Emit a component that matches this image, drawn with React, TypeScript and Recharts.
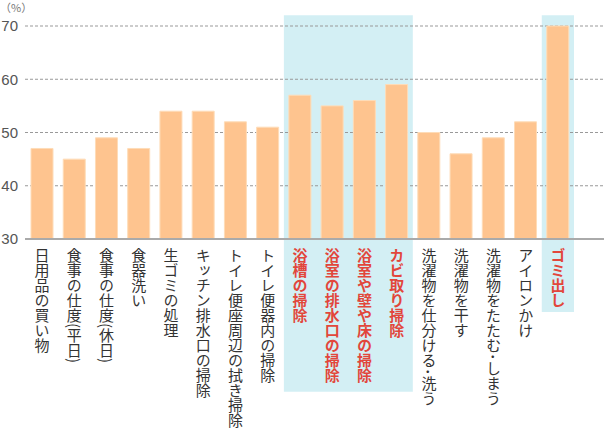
import { BarChart, Bar, XAxis, YAxis, CartesianGrid, ReferenceArea } from 'recharts';

const categories = [
  '日用品の買い物',
  '食事の仕度(平日)',
  '食事の仕度(休日)',
  '食器洗い',
  '生ゴミの処理',
  'キッチン排水口の掃除',
  'トイレ便座周辺の拭き掃除',
  'トイレ便器内の掃除',
  '浴槽の掃除',
  '浴室の排水口の掃除',
  '浴室や壁や床の掃除',
  'カビ取り掃除',
  '洗濯物を仕分ける・洗う',
  '洗濯物を干す',
  '洗濯物をたたむ・しまう',
  'アイロンかけ',
  'ゴミ出し'
];
const rates = [47, 45, 49, 47, 54, 54, 52, 51, 57, 55, 56, 59, 50, 46, 49, 52, 70];
const highlighted = ['浴槽の掃除', '浴室の排水口の掃除', '浴室や壁や床の掃除', 'カビ取り掃除', 'ゴミ出し'];
const yTicks = [30, 40, 50, 60, 70];

const data = categories.map((name, i) => ({ name, rate: rates[i] }));

const jpFont = '"Noto Sans CJK JP", sans-serif';

function CategoryTick(props: any) {
  const { x, y, payload } = props;
  const hl = highlighted.includes(payload.value);
  // the middle dot is set half-width, as in the reference
  const label = String(payload.value).replace(/・/g, '･');
  return (
    <text
      x={x}
      y={y + 1}
      style={{ writingMode: 'vertical-rl' }}
      fill={hl ? '#e2463b' : '#333'}
      fontWeight={hl ? 'bold' : 'normal'}
      fontSize={15}
      fontFamily={jpFont}
    >
      {label}
    </text>
  );
}

export default function App() {
  return (
    <div style={{ position: 'absolute', left: 0, top: 0, width: 604, height: 432 }}>
      <div
        style={{
          position: 'absolute', left: 0, top: 0, fontSize: 11, color: '#777',
          fontFamily: jpFont, lineHeight: '14px'
        }}
      >
        （%）
      </div>
      <BarChart width={604} height={432} data={data} margin={{ top: 26, right: 0, left: 0, bottom: 0 }}>
        <ReferenceArea
          x1="浴槽の掃除"
          x2="カビ取り掃除"
          y1={1.3}
          y2={72}
          fill="#d3eff4"
          fillOpacity={1}
          stroke="none"
          ifOverflow="visible"
          zIndex={-200}
        />
        <ReferenceArea
          x1="ゴミ出し"
          x2="ゴミ出し"
          y1={16.3}
          y2={72}
          fill="#d3eff4"
          fillOpacity={1}
          stroke="none"
          ifOverflow="visible"
          zIndex={-200}
        />
        <CartesianGrid vertical={false} stroke="#999" strokeDasharray="3 2" />
        <XAxis
          dataKey="name"
          interval={0}
          height={193}
          padding={{ left: 1, right: 30 }}
          tickLine={false}
          tick={<CategoryTick />}
          stroke="#aaa"
          strokeWidth={2}
        />
        <YAxis
          domain={[30, 70]}
          ticks={yTicks}
          width={25}
          axisLine={false}
          tickLine={false}
          tickSize={0}
          tickMargin={7}
          tick={{ fill: '#555', fontSize: 15, fontFamily: '"Liberation Sans", Arial, sans-serif' }}
        />
        <Bar dataKey="rate" fill="#fec48f" stroke="#fedcb8" strokeWidth={1} barSize={22} isAnimationActive={false} />
      </BarChart>
    </div>
  );
}
